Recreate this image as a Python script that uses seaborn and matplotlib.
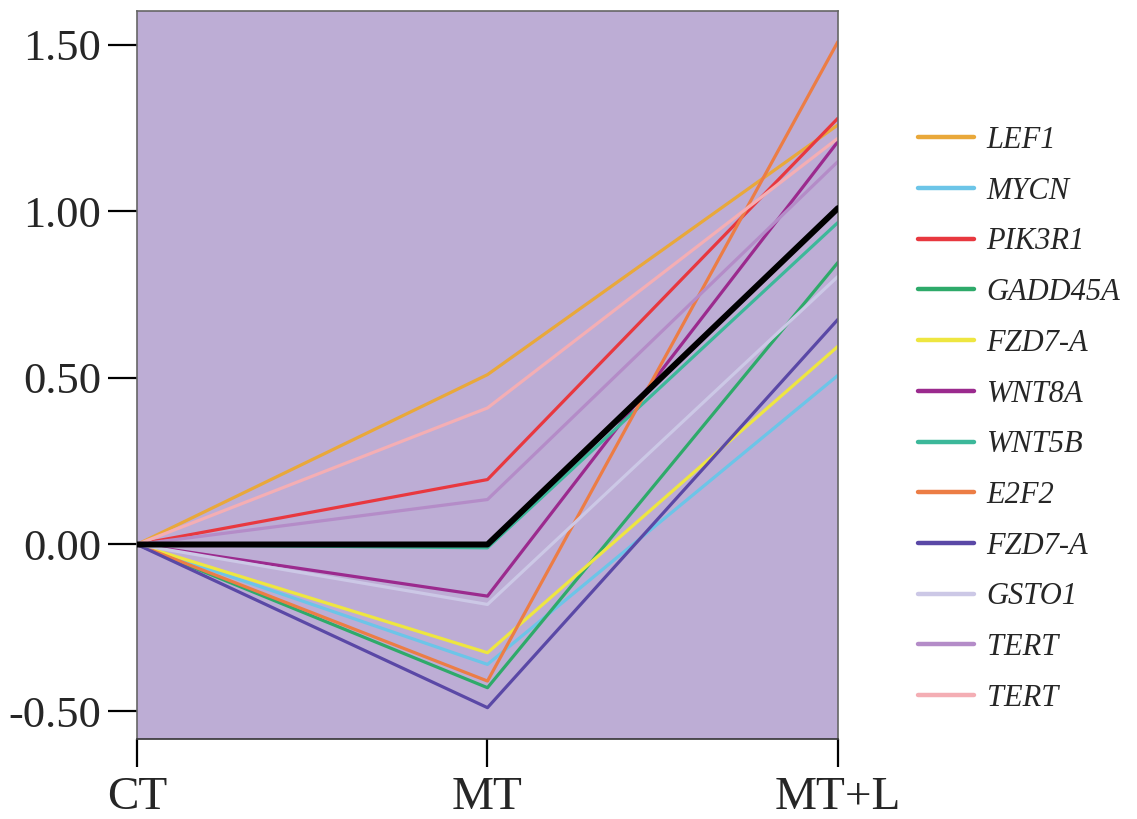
import matplotlib
matplotlib.use("Agg")
import matplotlib.pyplot as plt
import seaborn as sns
import pandas as pd
from matplotlib.ticker import FormatStrFormatter

# ---- data ----
stages = ["CT", "MT", "MT+L"]
genes = ["LEF1", "MYCN", "PIK3R1", "GADD45A", "FZD7-A", "WNT8A",
         "WNT5B", "E2F2", "FZD7-A", "GSTO1", "TERT", "TERT"]
colors = ["#E9A83A", "#6CC5E8", "#E8383F", "#2EAA6A", "#EEE640", "#9B2A8E",
          "#3CB89A", "#EC7D45", "#5A48A6", "#CCC8E6", "#B48CC8", "#F4AEB4"]
values_ct = [0, 0, 0, 0, 0, 0, 0, 0, 0, 0, 0, 0]
values_mt = [0.51, -0.36, 0.195, -0.43, -0.325, -0.155,
             -0.01, -0.41, -0.49, -0.18, 0.135, 0.41]
values_mtl = [1.26, 0.508, 1.28, 0.847, 0.595, 1.21,
              0.967, 1.51, 0.676, 0.805, 1.15, 1.22]
mean_line = [0.0, 0.0, 1.01]
yticks = [-0.50, 0.00, 0.50, 1.00, 1.50]

sns.set_theme(style="white")
plt.rcParams["font.family"] = ["Liberation Serif", "DejaVu Serif"]
plt.rcParams["axes.unicode_minus"] = False

fig = plt.figure(figsize=(11.37, 8.19), dpi=100)
ax = fig.add_axes([0.1205, 0.0977, 0.6165, 0.8889])
ax.set_facecolor("#BDADD5")

rows = []
for i, g in enumerate(genes):
    for j, s in enumerate(stages):
        v = [values_ct[i], values_mt[i], values_mtl[i]][j]
        rows.append({"series": f"{i}", "gene": g, "x": j, "value": v})
df = pd.DataFrame(rows)

for i, g in enumerate(genes):
    sub = df[df["series"] == f"{i}"]
    sns.lineplot(data=sub, x="x", y="value", color=colors[i], lw=2.3,
                 ax=ax, label=g, legend=False)

dfm = pd.DataFrame({"x": range(len(stages)), "value": mean_line})
sns.lineplot(data=dfm, x="x", y="value", color="black", lw=4.3, ax=ax,
             legend=False, zorder=5)

ax.set_xlim(0, 2)
ax.set_ylim(-0.584, 1.602)
ax.set_xticks(range(len(stages)))
ax.set_xticklabels(stages)
ax.set_yticks(yticks)
ax.yaxis.set_major_formatter(FormatStrFormatter("%.2f"))
ax.set_xlabel("")
ax.set_ylabel("")

for side in ["left", "top", "right"]:
    ax.spines[side].set_color("#666666")
    ax.spines[side].set_linewidth(1.2)
ax.spines["bottom"].set_color("#333333")
ax.spines["bottom"].set_linewidth(1.2)

ax.tick_params(axis="y", direction="out", length=21, width=1.6,
               color="black", labelsize=32, pad=5, left=True)
ax.tick_params(axis="x", direction="out", length=20, width=1.6,
               color="black", labelsize=34, pad=7, bottom=True)

leg_lines = ax.get_lines()[:len(genes)]
leg = fig.legend(leg_lines, genes, loc="upper left",
                 bbox_to_anchor=(0.797, 0.861), frameon=False,
                 prop={"family": ["Liberation Serif"], "style": "italic", "size": 22},
                 handlelength=1.83, handletextpad=0.4, labelspacing=0.71,
                 borderaxespad=0)
for h in leg.get_lines():
    h.set_linewidth(3.2)

fig.savefig("out.png", dpi=100)
